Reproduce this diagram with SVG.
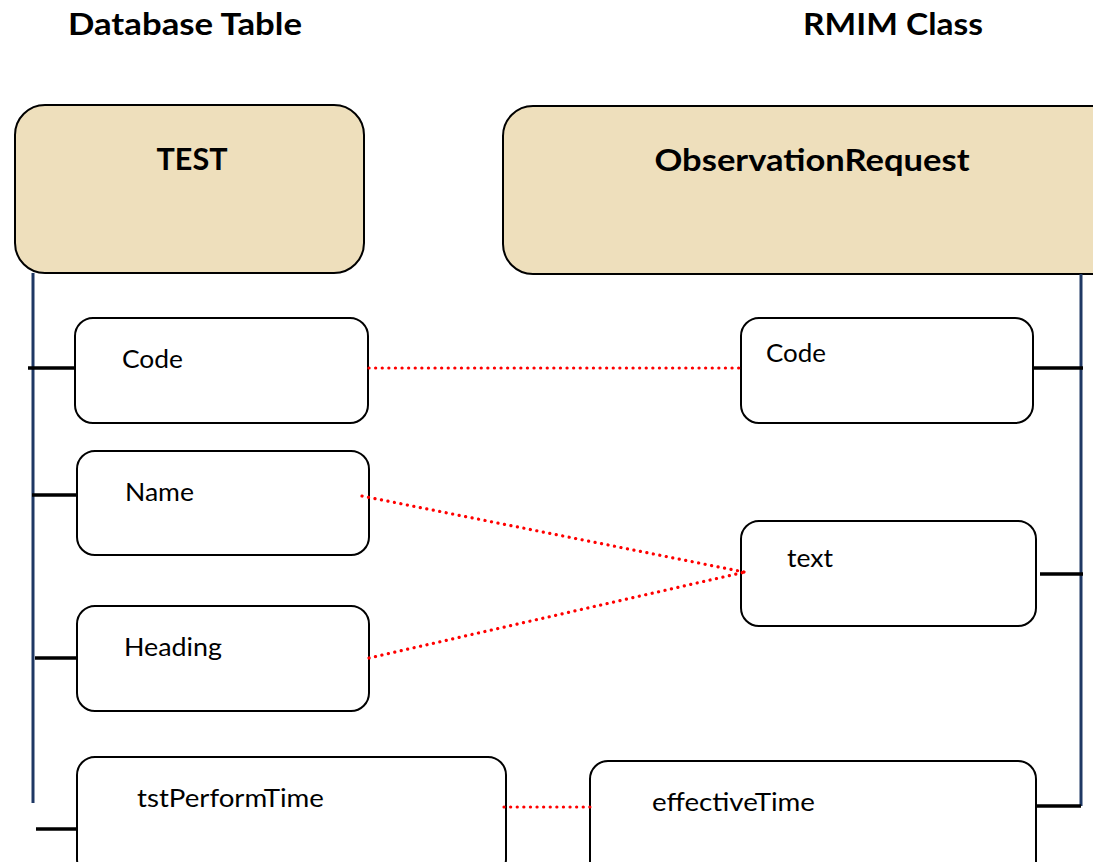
<svg xmlns="http://www.w3.org/2000/svg" width="1093" height="862" viewBox="0 0 1093 862">
  <style>
    .title { font-family: Lato, "Liberation Sans", sans-serif; font-weight: bold; font-size: 30px; fill: #000; }
    .head { fill: #EEDFBC; stroke: #000; stroke-width: 2; }
    .attr { fill: #fff; stroke: #000; stroke-width: 2; }
    .label { font-family: Lato, "Liberation Sans", sans-serif; font-size: 25px; fill: #000; }
    .spine { stroke: #1F3864; stroke-width: 3; fill: none; }
    .stub { stroke: #000; stroke-width: 3.5; fill: none; }
    .map { stroke: #FF0000; stroke-width: 3.2; stroke-linecap: round; stroke-dasharray: 0.1 6.5; fill: none; }
  </style>

  <!-- column headings -->
  <text class="title" x="185" y="35" text-anchor="middle" textLength="234" lengthAdjust="spacingAndGlyphs">Database Table</text>
  <text class="title" x="893" y="35" text-anchor="middle" textLength="180" lengthAdjust="spacingAndGlyphs">RMIM Class</text>

  <g id="test">
    <rect class="head" x="15" y="105" width="349" height="168" rx="30"/>
    <text class="title" x="192" y="170" text-anchor="middle" font-size="31" textLength="71" lengthAdjust="spacingAndGlyphs">TEST</text>
  </g>
  <g id="observation-request">
    <rect class="head" x="503" y="106" width="620" height="168" rx="30"/>
    <text class="title" x="812" y="171" text-anchor="middle" font-size="31" textLength="315" lengthAdjust="spacingAndGlyphs">ObservationRequest</text>
  </g>

  <g id="test-code">
    <rect class="attr" x="75" y="318" width="293" height="105" rx="18"/>
    <text class="label" x="122" y="368" textLength="61" lengthAdjust="spacingAndGlyphs">Code</text>
  </g>
  <g id="test-name">
    <rect class="attr" x="77" y="451" width="292" height="104" rx="18"/>
    <text class="label" x="125" y="501" textLength="69" lengthAdjust="spacingAndGlyphs">Name</text>
  </g>
  <g id="test-heading">
    <rect class="attr" x="77" y="606" width="292" height="105" rx="18"/>
    <text class="label" x="124" y="656" textLength="98" lengthAdjust="spacingAndGlyphs">Heading</text>
  </g>
  <g id="test-performtime">
    <rect class="attr" x="77" y="757" width="429" height="120" rx="18"/>
    <text class="label" x="137" y="807" textLength="187" lengthAdjust="spacingAndGlyphs">tstPerformTime</text>
  </g>

  <g id="obs-code">
    <rect class="attr" x="741" y="318" width="292" height="105" rx="18"/>
    <text class="label" x="766" y="362" textLength="60" lengthAdjust="spacingAndGlyphs">Code</text>
  </g>
  <g id="obs-text">
    <rect class="attr" x="741" y="521" width="295" height="105" rx="18"/>
    <text class="label" x="787" y="567" textLength="46" lengthAdjust="spacingAndGlyphs">text</text>
  </g>
  <g id="obs-effectivetime">
    <rect class="attr" x="590" y="761" width="446" height="120" rx="18"/>
    <text class="label" x="652" y="811" textLength="163" lengthAdjust="spacingAndGlyphs">effectiveTime</text>
  </g>

  <!-- spines, attribute stubs and column mappings, drawn over the boxes -->
  <g id="connectors">
    <line class="spine" x1="33" y1="273" x2="33" y2="803"/>
    <line class="spine" x1="1081" y1="274" x2="1081" y2="806"/>
    <line class="stub" x1="28" y1="368" x2="75" y2="368"/>
    <line class="stub" x1="32" y1="495" x2="77" y2="495"/>
    <line class="stub" x1="35" y1="658" x2="77" y2="658"/>
    <line class="stub" x1="36" y1="829" x2="77" y2="829"/>
    <line class="stub" x1="1033" y1="368" x2="1083" y2="368"/>
    <line class="stub" x1="1040" y1="574" x2="1083" y2="574"/>
    <line class="stub" x1="1036" y1="806" x2="1081" y2="806"/>
    <line class="map" x1="369" y1="368" x2="740" y2="368"/>
    <line class="map" x1="362" y1="496" x2="749" y2="573"/>
    <line class="map" x1="369" y1="658" x2="745" y2="572"/>
    <line class="map" x1="504" y1="807" x2="590" y2="807"/>
  </g>
</svg>
